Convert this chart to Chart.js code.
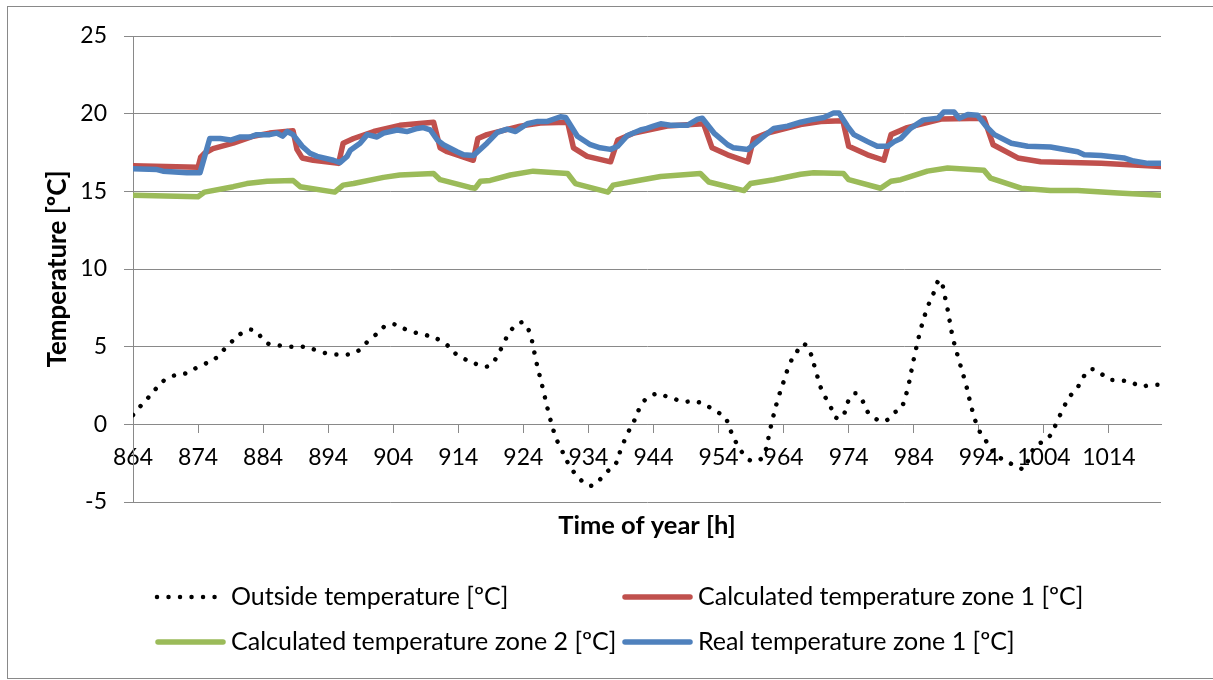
<!DOCTYPE html>
<html>
<head>
<meta charset="utf-8">
<title>Temperature zones</title>
<script src="https://cdn.jsdelivr.net/npm/chart.js@4.4.1/dist/chart.umd.min.js"></script>
<style>
  html, body { margin: 0; padding: 0; background: #fff; }
  #wrap { width: 1213px; height: 680px; }
</style>
</head>
<body>
<div id="wrap"><canvas id="tempChart" width="1213" height="680"></canvas></div>
<script>
// hours on the x axis
const FIRST_HOUR = 864;
const LAST_HOUR = 1022;
const hourTicks = [864, 874, 884, 894, 904, 914, 924, 934, 944, 954, 964, 974, 984, 994, 1004, 1014];
const tempTicks = [-5, 0, 5, 10, 15, 20, 25];

// outside temperature, one value per hour starting at FIRST_HOUR
const outsideTemp = [
  0.6, 1.1, 1.55, 2.05, 2.5, 2.9, 3.1, 3.2, 3.27, 3.45,
  3.7, 3.88, 4.1, 4.35, 4.82, 5.25, 5.65, 5.95, 6.1, 5.95,
  5.45, 5.15, 5.1, 5.05, 5.0, 5.0, 5.0, 4.9, 4.8, 4.65,
  4.55, 4.5, 4.5, 4.5, 4.6, 4.85, 5.3, 5.65, 6.05, 6.4,
  6.45, 6.3, 6.1, 5.95, 5.85, 5.75, 5.6, 5.45, 5.2, 4.8,
  4.4, 4.2, 4.0, 3.85, 3.7, 3.85, 4.4, 5.25, 6.0, 6.4,
  6.55, 5.85, 4.0, 2.3, 0.55, -0.85, -1.75, -2.6, -3.2, -3.65,
  -3.95, -3.85, -3.45, -3.0, -2.7, -1.6, -0.6, 0.2, 1.15, 1.7,
  1.92, 1.95, 1.8, 1.7, 1.5, 1.46, 1.48, 1.42, 1.25, 1.0,
  0.75, 0.45, -0.55, -1.4, -2.0, -2.35, -2.35, -1.95, -0.2, 1.45,
  2.75, 3.95, 4.65, 5.18, 4.71, 3.35, 2.05, 1.35, 0.45, 0.45,
  1.55, 2.0, 1.6, 0.75, 0.4, 0.2, 0.3, 0.75, 1.0, 2.2,
  4.2, 6.0, 7.4, 8.4, 9.3, 7.8, 5.6, 4.05, 2.6, 0.9,
  -0.35, -1.0, -1.65, -2.1, -2.3, -2.55, -2.75, -2.85, -1.85, -1.35,
  -1.05, -0.7, 0.15, 1.05, 1.8, 2.25, 3.0, 3.5, 3.5, 3.2,
  2.9, 2.85, 2.82, 2.75, 2.6, 2.45, 2.5, 2.55, 2.55
];

// indoor series as [hour, temperature] at the points where the curves bend
const calcZone1 = [
  [864, 16.65], [874, 16.55], [874.4, 17.2], [875, 17.45], [876.3, 17.75], [879.4, 18.1],
  [882.5, 18.55], [885, 18.75], [888.6, 18.9], [889.2, 17.7], [890, 17.15], [891.7, 17.0],
  [895.6, 16.8], [896.3, 18.1], [897.9, 18.4], [901, 18.85], [905, 19.25], [910.2, 19.45],
  [911.2, 17.8], [912.3, 17.55], [916.3, 17.0], [917, 18.4], [918.4, 18.65], [923.5, 19.2],
  [926.6, 19.4], [930.8, 19.45], [931.7, 17.8], [933.8, 17.25], [937.4, 16.9], [938.5, 18.3],
  [941, 18.75], [946.1, 19.2], [951.7, 19.35], [953, 17.8], [955.4, 17.35], [958.5, 16.9],
  [959.4, 18.4], [961.5, 18.75], [966.6, 19.3], [969.7, 19.5], [973.1, 19.55], [974, 17.9],
  [976.9, 17.35], [979.4, 17.0], [980.5, 18.65], [983, 19.1], [988.2, 19.65], [994.8, 19.7],
  [996.2, 18.0], [1000, 17.15], [1003.5, 16.9], [1012.8, 16.8], [1017.8, 16.7], [1022, 16.6]
];

const calcZone2 = [
  [864, 14.75], [874, 14.65], [875, 14.95], [879.4, 15.3], [881.5, 15.5], [884.6, 15.65],
  [888.6, 15.7], [889.7, 15.3], [895, 14.95], [896.3, 15.4], [897.9, 15.5], [902.5, 15.9],
  [905, 16.05], [910.2, 16.15], [911.2, 15.75], [915.8, 15.25], [916.6, 15.2], [917.4, 15.65],
  [918.9, 15.7], [922, 16.05], [925.5, 16.3], [930.8, 16.15], [932, 15.5], [937, 14.95],
  [937.8, 15.4], [941, 15.65], [945.1, 15.95], [951.2, 16.15], [952.5, 15.6], [957.9, 15.05],
  [958.9, 15.5], [962.5, 15.75], [966.6, 16.1], [968.6, 16.2], [973.2, 16.15], [974, 15.75],
  [978.9, 15.2], [980.5, 15.65], [982, 15.75], [986.1, 16.3], [989.2, 16.5], [994.8, 16.35],
  [995.8, 15.85], [1000.5, 15.2], [1005, 15.05], [1009.2, 15.05], [1015.4, 14.9], [1022, 14.75]
];

const realZone1 = [
  [864, 16.45], [867.7, 16.4], [868.6, 16.3], [872.3, 16.2], [874.3, 16.2], [875.8, 18.4],
  [877.4, 18.4], [879, 18.3], [880.5, 18.5], [882, 18.5], [883, 18.65], [885, 18.65],
  [886.1, 18.75], [887, 18.55], [887.7, 18.85], [888.6, 18.65], [890, 17.9], [891.2, 17.45],
  [892.3, 17.25], [894.8, 17.0], [895.8, 16.85], [896.9, 17.25], [897.4, 17.65], [898.9, 18.1],
  [900, 18.65], [901.5, 18.5], [902.5, 18.75], [904.6, 18.95], [906.1, 18.85], [907.7, 19.05],
  [908.6, 19.1], [909.7, 18.95], [910.8, 18.3], [911.7, 18.0], [913.8, 17.55], [914.8, 17.35],
  [916.3, 17.3], [918.4, 18.1], [920, 18.8], [921.5, 19.0], [922.8, 18.85], [924.6, 19.35],
  [926.2, 19.5], [927.7, 19.5], [929.7, 19.8], [930.5, 19.75], [932.3, 18.55], [934.3, 18.0],
  [935.8, 17.8], [937.4, 17.7], [938.5, 17.9], [940, 18.6], [942, 18.95], [943, 19.05],
  [944, 19.2], [945.1, 19.35], [946.6, 19.25], [949.2, 19.25], [950.8, 19.65], [951.5, 19.7],
  [953.3, 18.75], [955.4, 18.0], [956.3, 17.8], [958.5, 17.7], [960.5, 18.4], [962.5, 19.05],
  [964.6, 19.2], [966.6, 19.45], [968.2, 19.6], [970.2, 19.75], [971.7, 20.05], [972.5, 20.05],
  [973.8, 19.2], [974.8, 18.65], [976.9, 18.2], [978.4, 17.9], [980, 17.9], [981, 18.2],
  [982, 18.4], [983.5, 19.05], [985.5, 19.6], [987.7, 19.7], [988.6, 20.1], [990.2, 20.1],
  [991, 19.7], [992.3, 19.95], [993.8, 19.9], [995.1, 19.2], [996.4, 18.65], [999, 18.1],
  [1001.5, 17.9], [1005, 17.85], [1009.2, 17.55], [1010.2, 17.35], [1012.8, 17.3], [1016.3, 17.15],
  [1017.8, 16.95], [1020, 16.8], [1022, 16.8]
];

const axisGray = '#898989';
const textFont = 'Lato';

const toPoints = pairs => pairs.map(([x, y]) => ({ x, y }));
const outsidePoints = outsideTemp.map((y, i) => ({ x: FIRST_HOUR + i, y }));

// grey frame around the whole chart
const chartFrame = {
    id: 'chartFrame',
    beforeDraw(chart) {
        const ctx = chart.ctx;
        ctx.save();
        ctx.fillStyle = '#ffffff';
        ctx.fillRect(0, 0, chart.width, chart.height);
        ctx.strokeStyle = axisGray;
        ctx.lineWidth = 1;
        ctx.strokeRect(7.5, 6.5, chart.width, chart.height - 8);
        ctx.restore();
    }
};

// two-column legend under the axis title
const legendCols = [155, 622];
const legendRows = [597, 642];
const gridLegend = {
    id: 'gridLegend',
    afterDraw(chart) {
        const ctx = chart.ctx;
        chart.data.datasets.forEach((ds, i) => {
            const x0 = legendCols[i % 2];
            const y = legendRows[Math.floor(i / 2)];
            ctx.save();
            ctx.strokeStyle = ds.borderColor;
            ctx.lineWidth = ds.borderWidth;
            ctx.lineCap = 'round';
            ctx.setLineDash(ds.borderDash || []);
            ctx.beginPath();
            if (ds.borderDash) {
                ctx.moveTo(x0 + 2, y);
                ctx.lineTo(x0 + 62, y);
            } else {
                ctx.moveTo(x0 + 3, y);
                ctx.lineTo(x0 + 68, y);
            }
            ctx.stroke();
            ctx.setLineDash([]);
            ctx.fillStyle = '#000';
            ctx.font = `25px ${textFont}`;
            ctx.textBaseline = 'middle';
            ctx.textAlign = 'left';
            ctx.fillText(ds.label, x0 + 76, y);
            ctx.restore();
        });
    }
};

const lineStyle = {
    borderWidth: 5.5,
    borderCapStyle: 'round',
    borderJoinStyle: 'round',
    tension: 0,
    pointRadius: 0
};

new Chart(document.getElementById('tempChart'), {
    type: 'line',
    data: {
        datasets: [
            {
                label: 'Outside temperature [ºC]',
                data: outsidePoints,
                borderColor: '#000000',
                borderWidth: 4.5,
                borderDash: [0.01, 11.5],
                borderCapStyle: 'round',
                tension: 0.4,
                pointRadius: 0,
                order: 3
            },
            Object.assign({
                label: 'Calculated temperature zone 1 [ºC]',
                data: toPoints(calcZone1),
                borderColor: '#C0504D',
                order: 2
            }, lineStyle),
            Object.assign({
                label: 'Calculated temperature zone 2 [ºC]',
                data: toPoints(calcZone2),
                borderColor: '#9BBB59',
                order: 1
            }, lineStyle),
            Object.assign({
                label: 'Real temperature zone 1 [ºC]',
                data: toPoints(realZone1),
                borderColor: '#4F81BD',
                order: 0
            }, lineStyle)
        ]
    },
    options: {
        responsive: false,
        animation: false,
        devicePixelRatio: 1,
        layout: { padding: { left: 0, top: 36, right: 52, bottom: 130 } },
        plugins: {
            legend: { display: false },
            tooltip: { enabled: false }
        },
        scales: {
            x: {
                type: 'linear',
                min: FIRST_HOUR,
                max: LAST_HOUR,
                position: { y: 0 },
                afterBuildTicks: scale => { scale.ticks = hourTicks.map(v => ({ value: v })); },
                ticks: {
                    autoSkip: false,
                    maxRotation: 0,
                    padding: 11,
                    color: '#000',
                    font: { family: textFont, size: 23 },
                    callback: v => String(v)
                },
                grid: { drawOnChartArea: false, drawTicks: true, tickLength: 8, color: axisGray },
                border: { display: true, color: axisGray }
            },
            xTitle: {
                type: 'linear',
                position: 'bottom',
                min: FIRST_HOUR,
                max: LAST_HOUR,
                ticks: { display: false },
                grid: { display: false, drawTicks: false },
                border: { display: false },
                title: {
                    display: true,
                    text: 'Time of year [h]',
                    color: '#000',
                    font: { family: textFont, size: 25.5, weight: 'bold' },
                    padding: { top: 0, bottom: 9 }
                },
                afterFit: scale => { scale.height = 48; }
            },
            y: {
                min: -5,
                max: 25,
                afterBuildTicks: scale => { scale.ticks = tempTicks.map(v => ({ value: v })); },
                ticks: {
                    padding: 17,
                    color: '#000',
                    font: { family: textFont, size: 23 }
                },
                grid: { color: axisGray, tickLength: 9 },
                border: { color: axisGray },
                title: {
                    display: true,
                    text: 'Temperature [ºC]',
                    color: '#000',
                    font: { family: textFont, size: 26, weight: 'bold' },
                    padding: { top: 42, bottom: 0 }
                },
                afterFit: scale => { scale.width = 133; }
            }
        }
    },
    plugins: [chartFrame, gridLegend]
});
</script>
</body>
</html>
